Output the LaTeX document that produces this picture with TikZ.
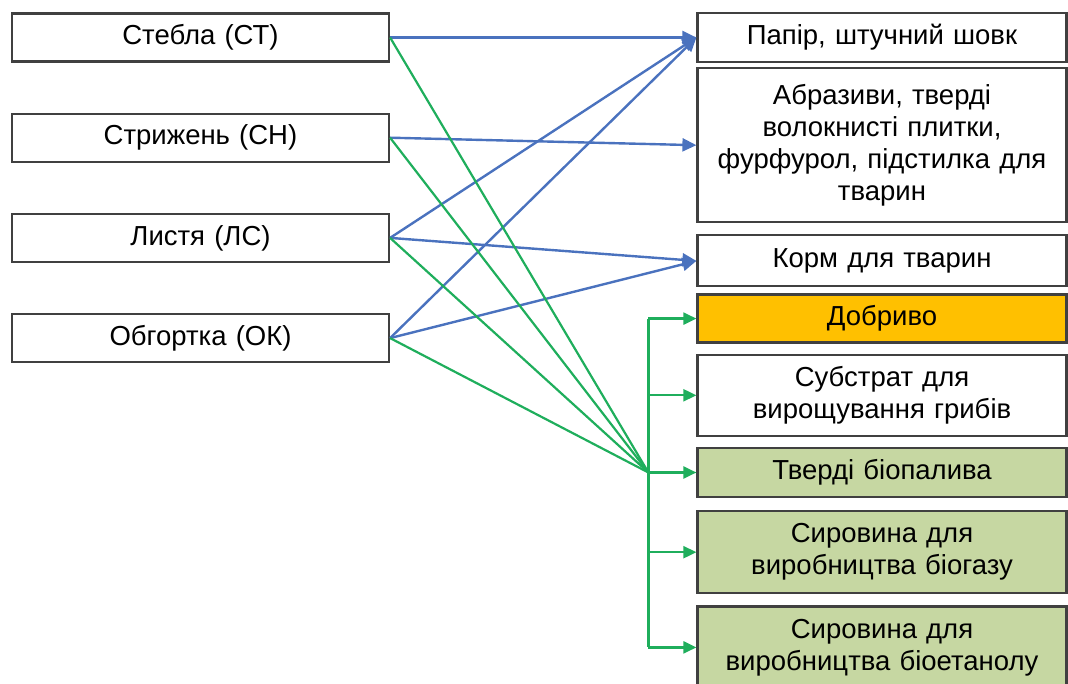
\documentclass[tikz,border=0pt]{standalone}
\usepackage{fontspec}
\setmainfont{Liberation Sans}
\usepackage{tikz}
\usetikzlibrary{positioning, arrows.meta}
\definecolor{ramka}{HTML}{404040}
\definecolor{liniia_syn}{HTML}{4A72BE}
\definecolor{liniia_zel}{HTML}{1FAE5C}
\definecolor{zhovtyi}{HTML}{FFC000}
\definecolor{olyvkovyi}{HTML}{C6D7A2}
\tikzset{
    box_syrovyna/.style={rectangle, draw=ramka, line width=2.2pt, fill=white, text width=369pt, inner sep=4pt, align=center, minimum height=48pt, font=\fontsize{27.5}{32}\selectfont},
    box_produkt/.style={rectangle, draw=ramka, line width=2.2pt, fill=white, text width=361pt, inner sep=4pt, align=center, font=\fontsize{27.5}{32}\selectfont},
    box_energiia/.style={box_produkt, fill=olyvkovyi},
    strilka_syn/.style={draw, -{Triangle[length=14pt, width=13pt]}, line width=2.4pt, color=liniia_syn},
    strilka_zel/.style={draw, -{Triangle[length=13pt, width=12pt]}, line width=2.2pt, color=liniia_zel},
    liniia/.style={draw, line width=2.2pt, color=liniia_zel}
}
\begin{document}
\begin{tikzpicture}[x=1pt, y=-1pt, node distance=12pt]
    \useasboundingbox (0,0) rectangle (1068,684);

    % Сировина (ліва колонка)
    \node[box_syrovyna] (st) at (200.5,37.5) {Стебла (СТ)};
    \node[box_syrovyna, below=50pt of st] (sn) {Стрижень (СН)};
    \node[box_syrovyna, below=50pt of sn] (ls) {Листя (ЛС)};
    \node[box_syrovyna, below=50pt of ls] (ok) {Обгортка (ОК)};

    % Продукти (права колонка)
    \node[box_produkt, minimum height=49pt] (papir) at (882,37.5) {Папір, штучний шовк};
    \node[box_produkt, minimum height=154pt, below=4pt of papir] (abraz) {Абразиви, тверді\\ волокнисті плитки,\\ фурфурол, підстилка для\\ тварин};
    \node[box_produkt, minimum height=51pt, below=11pt of abraz] (korm) {Корм для тварин};
    \node[box_produkt, minimum height=48pt, fill=zhovtyi, below=6pt of korm] (dobr) {Добриво};
    \node[box_produkt, minimum height=81pt, below=10pt of dobr] (grib) {Субстрат для\\ вирощування грибів};
    \node[box_energiia, minimum height=49pt, below=10pt of grib] (tverdi) {Тверді біопалива};
    \node[box_energiia, minimum height=82pt, below=of tverdi] (biogaz) {Сировина для\\ виробництва біогазу};
    \node[box_energiia, minimum height=82pt, below=11pt of biogaz] (bioet) {Сировина для\\ виробництва біоетанолу};

    % Точка збору зелених ліній
    \coordinate (zbir) at ([xshift=-48pt]tverdi.west);

    % --- ЗВ'ЯЗКИ ---

    % Сині стрілки
    \draw[strilka_syn] (st.east) -- (papir.west);
    \draw[strilka_syn] (ls.east) -- (papir.west);
    \draw[strilka_syn] (ok.east) -- (papir.west);
    \draw[strilka_syn] (sn.east) -- (abraz.west);
    \draw[strilka_syn] (ls.east) -- (korm.west);
    \draw[strilka_syn] (ok.east) -- (korm.west);

    % Зелені лінії до точки збору
    \draw[liniia] (st.east) -- (zbir);
    \draw[liniia] (sn.east) -- (zbir);
    \draw[liniia] (ls.east) -- (zbir);
    \draw[liniia] (ok.east) -- (zbir);

    % Вертикальна шина та розгалуження
    \draw[liniia] (zbir |- dobr.west) -- (zbir |- bioet.west);
    \draw[strilka_zel] (zbir |- dobr.west) -- (dobr.west);
    \draw[strilka_zel] (zbir |- grib.west) -- (grib.west);
    \draw[strilka_zel] (zbir) -- (tverdi.west);
    \draw[strilka_zel] (zbir |- biogaz.west) -- (biogaz.west);
    \draw[strilka_zel] (zbir |- bioet.west) -- (bioet.west);
\end{tikzpicture}
\end{document}
